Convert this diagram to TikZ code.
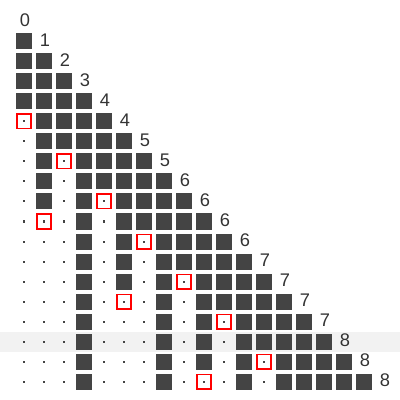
\documentclass[tikz,border=0pt]{standalone}
\usepackage{fontspec}
\setmainfont{Liberation Sans}
\definecolor{cellgray}{HTML}{444444}
\definecolor{strikered}{HTML}{FF0000}
\definecolor{labelgray}{HTML}{333333}
\definecolor{bandgray}{HTML}{F2F2F2}

\begin{document}
\begin{tikzpicture}[x=0.5cm, y=-0.5cm,
    cell/.style={fill=cellgray, inner sep=0pt, minimum size=0.4cm},
    struck/.style={draw=strikered, line width=0.04cm, inner sep=0pt, minimum size=0.36cm},
    speck/.style={fill=cellgray, inner sep=0pt, minimum size=0.05cm},
    tally/.style={text=labelgray, font=\fontsize{13}{15}\selectfont}]
    \useasboundingbox (-1.2,-1.075) rectangle (18.8,18.925);
    \fill[bandgray] (-1.2,15.525) rectangle (18.8,16.525);
    \foreach \row/\total in {0/0,1/1,2/2,3/3,4/4,5/4,6/5,7/5,8/6,9/6,10/6,11/6,12/7,13/7,14/7,15/7,16/8,17/8,18/8} {
        \node[tally] (n\row) at (\row+0.05,\row-0.075) {\total};
    }
    \foreach \col/\kill in {0/5,1/10,2/7,3/99,4/9,5/14,6/11,7/99,8/13,9/18,10/15,11/99,12/17,13/99,14/99,15/99,16/99,17/99} {
        \pgfmathtruncatemacro\first{\col+1}
        \foreach \row in {\first,...,18} {
            \ifnum\row<\kill
                \node[cell] (c\row-\col) at (\col,\row) {};
            \else\ifnum\row=\kill
                \node[struck] (c\row-\col) at (\col,\row) {};
                \node[speck] (s\row-\col) at (\col,\row) {};
            \else
                \node[speck] (c\row-\col) at (\col,\row) {};
            \fi\fi
        }
    }
\end{tikzpicture}
\end{document}
